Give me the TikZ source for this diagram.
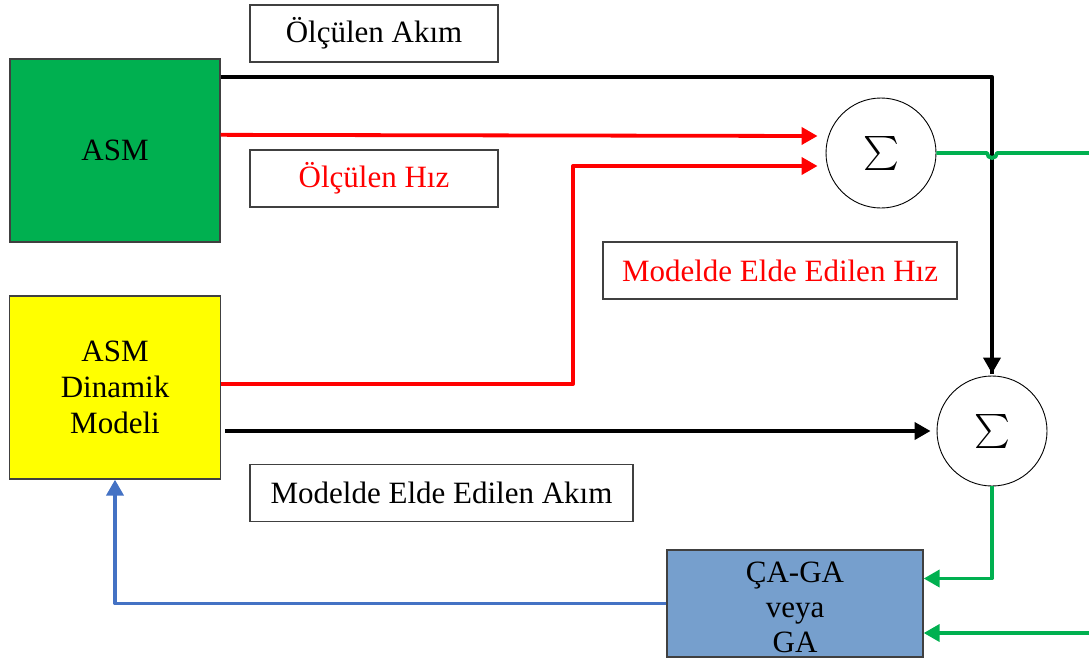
\documentclass[tikz,border=0pt]{standalone}
\usepackage{fontspec}
\usepackage{graphicx}
\setmainfont{Liberation Serif}
\usetikzlibrary{positioning,arrows.meta,calc}
\definecolor{cgreen}{HTML}{00B050}
\definecolor{cyell}{HTML}{FFFF00}
\definecolor{cbox}{HTML}{769FCD}
\definecolor{cblue}{HTML}{4472C4}
\definecolor{cred}{HTML}{FF0000}
\definecolor{cedge}{HTML}{404040}

\begin{document}
\begin{tikzpicture}[x=1pt, y=-1pt,
  blk/.style={rectangle, draw=cedge, line width=1.3pt, inner sep=0pt, align=center,
              font=\fontsize{31}{36}\selectfont},
  lbl/.style={rectangle, draw=cedge, line width=1.3pt, inner sep=0pt, minimum height=57pt,
              font=\fontsize{31}{36}\selectfont},
  sumc/.style={circle, draw=black, line width=0.9pt, minimum size=110pt, inner sep=0pt},
  arr/.style={-{Triangle[length=16pt,width=17pt]}, line width=3.8pt, line join=round},
  ln/.style={line width=3.8pt, line join=round}
]
\useasboundingbox (0,0) rectangle (1089,659);

% --- blocks ---
\node[blk, fill=cgreen, minimum width=210pt, minimum height=183pt] (asm) at (115,150.5) {ASM};
\node[blk, fill=cyell, minimum width=211pt, minimum height=183pt] (model) at (115,387.5)
  {ASM\\Dinamik\\Modeli};
\node[blk, fill=cbox, minimum width=256pt, minimum height=107pt] (ga) at (795,603.5) {};
\node[align=center, inner sep=0pt, font=\fontsize{31}{35}\selectfont] (gatext)
  at ($(ga.center)+(0,4)$) {ÇA-GA\\veya\\GA};

% --- summing points ---
\node[sumc] (sum1) at (881,153) {\scalebox{3.4}{$\sum$}};
\node[sumc] (sum2) at (992,431) {\scalebox{3.4}{$\sum$}};

% --- labels ---
\node[lbl, minimum width=248pt] (iasm) at (374,33.5) {Ölçülen Akım};
\node[lbl, minimum width=248pt, text=cred] (wasm) at (374,178.5) {Ölçülen Hız};
\node[lbl, minimum width=354pt, text=cred] (wmodl) at (780,270.5) {Modelde Elde Edilen Hız};
\node[lbl, minimum width=383pt] (imodl) at (441.5,493) {Modelde Elde Edilen Akım};

% --- connector ends ---
\coordinate (iout) at ($(asm.north east)!0.1!(asm.south east)$);
\coordinate (wout) at ($(asm.north east)!0.415!(asm.south east)$);
\coordinate (wmod) at ($(model.north east)!0.48!(model.south east)$);
\coordinate (s1a) at ($(sum1.west)+(-8,-17)$);
\coordinate (s1b) at ($(sum1.west)+(-8,13)$);
\coordinate (eout) at (1089,153);
\coordinate (ein) at (1089,633);

% --- measured ---
\draw[ln] (iout) -| ($(sum2.north)+(0,-2)$);
\draw[arr] ($(sum2.north)+(0,-20)$) -- ($(sum2.north)+(0,-2)$);
\draw[arr, cred] (wout) -- (s1a);
% --- model ---
\draw[arr, cred] (wmod) -- ++(352,0) |- (s1b);
\draw[arr] ([xshift=4pt]model.east |- sum2.west) -- ([xshift=-6pt]sum2.west);
% --- error signals ---
\draw[ln, cgreen] (sum1.east) -- ($(sum1.east -| sum2)+(-5,0)$)
  arc[start angle=180, end angle=0, radius=5] -- (eout);
\draw[arr, cgreen] (sum2.south) |- ([yshift=25pt]ga.east);
\draw[arr, cgreen] (ein) -- (ein -| ga.east);
% --- update ---
\draw[arr, cblue] (ga.west) -| (model.south);

\end{tikzpicture}
\end{document}
